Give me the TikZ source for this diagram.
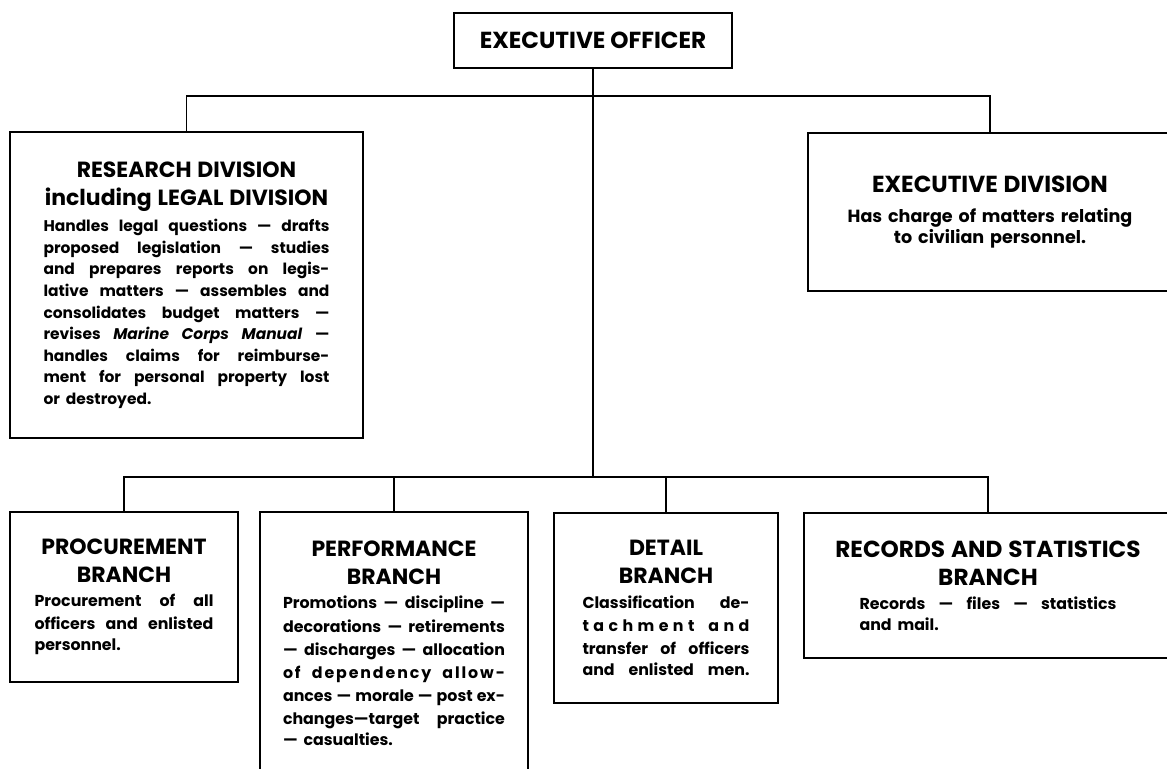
\documentclass[tikz,border=0pt]{standalone}
\usepackage{fontspec}
\setmainfont{Poppins}
% sizes: titles, big titles, body, tight body, large body
\newcommand\ttl{\fontsize{12.5}{16}\selectfont}
\newcommand\ttlb{\fontsize{13.2}{16}\selectfont}
\newcommand\bdy{\fontsize{9}{13.2}\selectfont}
\newcommand\bdys{\fontsize{8.8}{12.3}\selectfont}
\newcommand\bdyl{\fontsize{10}{13.4}\selectfont}
\newcommand\jl[1]{\makebox[\linewidth][s]{\spaceskip=\fontdimen2\font plus 1fil\relax#1}}
\newcommand\lastln[1]{\makebox[\linewidth][l]{#1}}
\tikzset{
  box/.style={draw=black,line width=1.1pt,inner sep=0pt,align=center,font=\bfseries},
  wire/.style={line width=1.1pt},
}

\begin{document}
\begin{tikzpicture}[x=0.02cm,y=-0.02cm]
\path[use as bounding box,clip] (0,0) rectangle (1167,768);
\node[box,minimum width=5.56cm,minimum height=1.1cm] (officer) at (593,40.5) {\ttlb EXECUTIVE OFFICER};
\node[box,minimum width=7.06cm,minimum height=6.12cm,text width=5.72cm] (research) at (186.5,285) {\ttl RESEARCH DIVISION\\including LEGAL DIVISION\\[2.5pt]
  \bdys\jl{Handles legal questions --- drafts}\\\jl{proposed legislation --- studies}\\\jl{and prepares reports on legis-}\\\jl{lative matters --- assembles and}\\
  \jl{consolidates budget matters ---}\\\jl{revises \textit{Marine Corps Manual} ---}\\\jl{handles claims for reimburse-}\\\jl{ment for personal property lost}\\\lastln{or destroyed.}};
\node[box,minimum width=7.28cm,minimum height=3.16cm,text width=6.4cm] (execdiv) at (990,212) {\ttlb EXECUTIVE DIVISION\\[3.4pt]
  \bdyl Has charge of matters relating\\to civilian personnel.};
\node[box,minimum width=4.56cm,minimum height=3.4cm,text width=3.58cm] (procure) at (124,597) {\ttl PROCUREMENT\\BRANCH\\[0.5pt]
  \bdy\jl{Procurement of all}\\\jl{officers and enlisted}\\\lastln{personnel.}};
\node[box,minimum width=5.36cm,minimum height=5.26cm,text width=4.44cm] (perform) at (394,643.5) {\ttl PERFORMANCE\\BRANCH\\[0.5pt]
  \bdy\jl{Promotions --- discipline ---}\\\jl{decorations --- retirements}\\\jl{--- discharges --- allocation}\\\jl{\addfontfeature{LetterSpace=12}of dependency allow-}\\
  \jl{ances --- morale --- post ex-}\\\jl{changes---target practice}\\\lastln{--- casualties.}};
\node[box,minimum width=4.48cm,minimum height=3.8cm,text width=3.34cm] (detail) at (666,608) {\ttl DETAIL\\BRANCH\\[0.5pt]
  \bdy\jl{Classification de-}\\\jl{\addfontfeature{LetterSpace=28}tachment and}\\\jl{transfer of officers}\\\jl{and enlisted men.}};
\node[box,minimum width=7.36cm,minimum height=2.9cm,text width=5.14cm] (records) at (988,585.5) {\ttlb\makebox[\linewidth]{RECORDS AND STATISTICS}\\BRANCH\\[0.5pt]
  \bdy\jl{Records --- files --- statistics}\\\lastln{and mail.}};
% connectors
\coordinate (upbus) at (593,96);
\coordinate (lowbus) at (593,477);
\draw[wire] (officer) -- (lowbus);
\draw[wire] (research.north) |- (upbus) -| (execdiv.north);
\draw[wire] (procure.north) |- (lowbus) -| (records.north);
\draw[wire] (perform.north) -- (perform.north |- lowbus);
\draw[wire] (detail.north) -- (detail.north |- lowbus);
\end{tikzpicture}
\end{document}
